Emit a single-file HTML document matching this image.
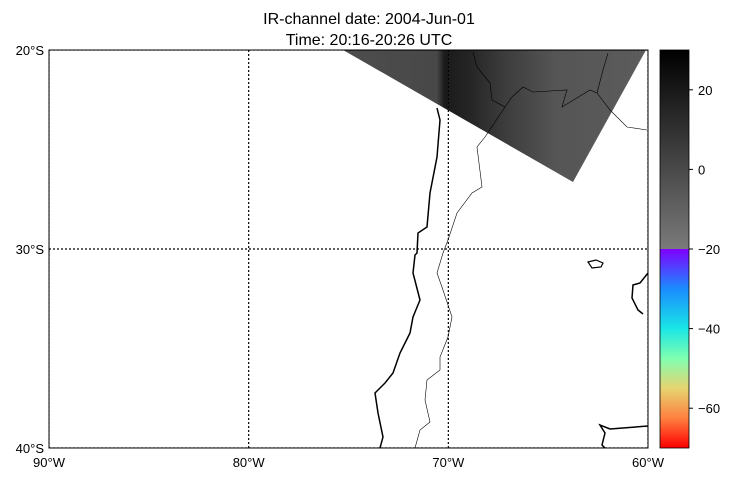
<!DOCTYPE html>
<html><head><meta charset="utf-8">
<style>
body{margin:0;background:#fff;}
svg{display:block;font-family:"Liberation Sans","DejaVu Sans",sans-serif;}
</style></head>
<body>
<svg id="chart" width="738" height="479" viewBox="0 0 738 479">
<defs>
<linearGradient id="gray" x1="0" y1="0" x2="0" y2="1">
<stop offset="0" stop-color="#000"/><stop offset="1" stop-color="#7a7a7a"/>
</linearGradient>
<linearGradient id="rainbow" x1="0" y1="0" x2="0" y2="1">
<stop offset="0" stop-color="#7f00ff"/><stop offset="0.2" stop-color="#1a8cff"/>
<stop offset="0.4" stop-color="#1ae6e6"/><stop offset="0.55" stop-color="#80ffb0"/>
<stop offset="0.7" stop-color="#e6d470"/><stop offset="0.85" stop-color="#ff8040"/>
<stop offset="1" stop-color="#ff0000"/>
</linearGradient>
<linearGradient id="swathg" x1="0" y1="0" x2="1" y2="0">
<stop offset="0" stop-color="#4d4d4d"/><stop offset="0.31" stop-color="#484848"/>
<stop offset="0.335" stop-color="#1a1a1a"/><stop offset="0.42" stop-color="#252525"/>
<stop offset="0.52" stop-color="#3a3a3a"/><stop offset="0.7" stop-color="#555"/>
<stop offset="1" stop-color="#5c5c5c"/>
</linearGradient>
<clipPath id="mapclip"><rect x="49" y="50" width="599" height="398"/></clipPath>
</defs>
<text x="369" y="24" text-anchor="middle" font-size="16">IR-channel date: 2004-Jun-01</text>
<text x="369" y="45" text-anchor="middle" font-size="16">Time: 20:16-20:26 UTC</text>
<g clip-path="url(#mapclip)">
<polygon points="343,50 646,50 573,182" fill="url(#swathg)"/>
<g id="grid"></g>
<polyline fill="none" stroke="#000" stroke-width="1.5" points="437,108 440,120 437,157 430,193 427,227 418,233 417,253 415,255 413,273 420,300 413,317 410,333 400,353 393,373 385,383 375,393 378,413 383,437 380,448"/>
<polyline fill="none" stroke="#000" stroke-width="0.6" points="485,137 477,147 482,187 472,193 457,213 448,240 443,253 437,273 443,290 452,317 448,337 440,357 440,370 427,380 425,400 430,422 420,430 415,448"/>
<polyline fill="none" stroke="#000" stroke-width="0.6" points="485,137 505,107 512,97 523,87 533,92 567,90 562,107 590,90 597,93 610,110 627,127 647,130"/>
<polyline fill="none" stroke="#000" stroke-width="0.6" points="597,93 603,70 608,53"/>
<polyline fill="none" stroke="#000" stroke-width="0.6" points="473,52 477,67 490,83 492,100 505,107"/>
<polygon fill="none" stroke="#000" stroke-width="1.2" points="588,262 596,260 603,263 601,267 592,268"/>
<polyline fill="none" stroke="#000" stroke-width="1.5" points="648,273 640,283 633,285 632,298 638,310 643,314"/>
<polyline fill="none" stroke="#000" stroke-width="1.5" points="648,426 610,429 600,425 605,433 602,445 605,448"/>
</g>
<rect x="49" y="50" width="599" height="398" fill="none" stroke="#000" stroke-width="1"/>
<g id="axes"></g>
<rect x="660" y="50" width="29" height="199" fill="url(#gray)"/>
<rect x="660" y="249" width="29" height="199" fill="url(#rainbow)"/>
<rect x="660" y="50" width="29" height="398" fill="none" stroke="#000" stroke-width="0.8"/>
<g id="cbar"></g>
</svg>
<script>
const lonTicks=[-90,-80,-70,-60];
const lonLabels=["90°W","80°W","70°W","60°W"];
const latTicks=[-20,-30,-40];
const latLabels=["20°S","30°S","40°S"];
const cbTicks=[20,0,-20,-40,-60];
const cbLabels=["20","0","\u221220","\u221240","\u221260"];
const NS="http://www.w3.org/2000/svg";
const X=l=>49+(l+90)/30*599;
const Y=l=>50+(-20-l)/20*398;
const C=v=>50+(30-v)/100*398;
function mk(t,a,p){const e=document.createElementNS(NS,t);for(const k in a)e.setAttribute(k,a[k]);p.appendChild(e);return e;}
const grid=document.getElementById('grid'),axes=document.getElementById('axes'),cb=document.getElementById('cbar');
lonTicks.forEach((l,i)=>{
 const ln=mk('line',{x1:X(l),x2:X(l),y1:50,y2:448,stroke:'#000','stroke-width':1.2,'stroke-dasharray':'2,2'},grid);
 
 
 const t=mk('text',{x:X(l),y:467,'text-anchor':'middle','font-size':13},axes);
 t.textContent=lonLabels[i];
 
 
});
latTicks.forEach((l,i)=>{
 const ln=mk('line',{x1:49,x2:648,y1:Y(l),y2:Y(l),stroke:'#000','stroke-width':1.2,'stroke-dasharray':'2,2'},grid);
 
 
 const t=mk('text',{x:44,y:Y(l)+5,'text-anchor':'end','font-size':13},axes);
 t.textContent=latLabels[i];
 
 
});
cbTicks.forEach((v,i)=>{
 const tk=mk('line',{x1:689,x2:693,y1:C(v),y2:C(v),stroke:'#000'},cb);
 
 
 const t=mk('text',{x:698,y:C(v)+5,'font-size':13},cb);
 t.textContent=cbLabels[i];
 
 
});
</script>
</body></html>
